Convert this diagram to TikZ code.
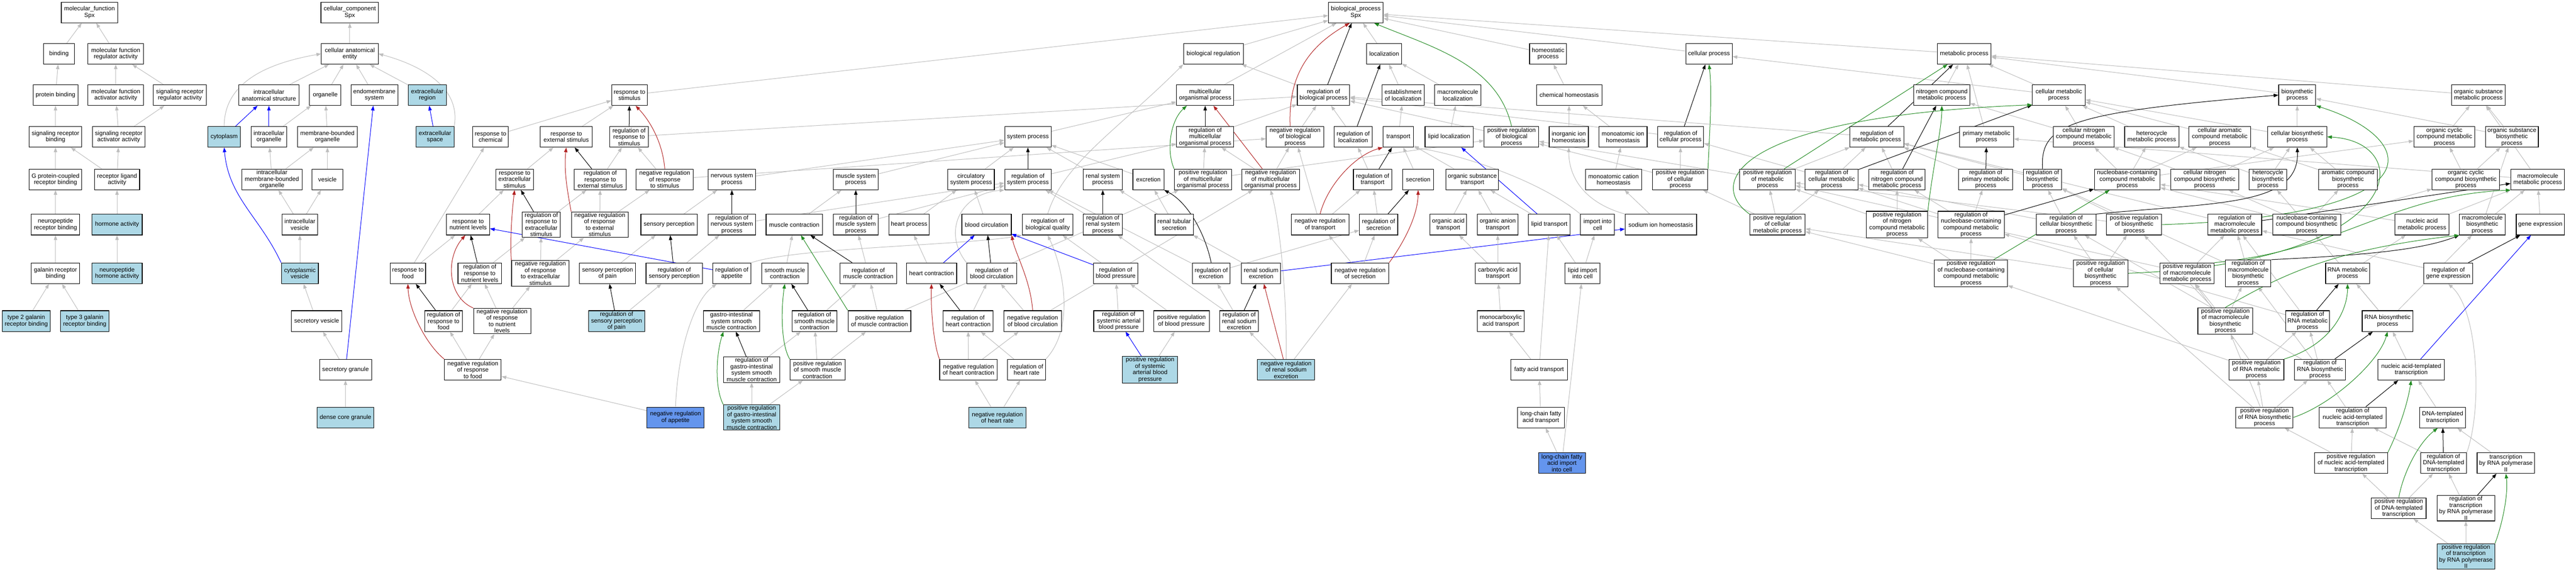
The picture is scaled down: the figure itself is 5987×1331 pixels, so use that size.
\documentclass[tikz,border=0pt]{standalone}
\usepackage{fontspec}
\setmainfont{Liberation Sans}
\usetikzlibrary{arrows.meta}
\definecolor{isagray}{RGB}{190,190,190}
\definecolor{negred}{RGB}{178,34,34}
\definecolor{posgreen}{RGB}{34,139,34}
\definecolor{partblue}{RGB}{0,0,255}
\definecolor{annblue}{RGB}{173,216,230}
\definecolor{seedblue}{RGB}{100,149,237}
\pgfdeclarelayer{edges}
\pgfsetlayers{edges,main}
\tikzset{>={Triangle[length=11pt,width=8pt]}}
\tikzset{
  goterm/.style={draw=black, line width=1.3pt, fill=white, align=center, inner sep=2pt,
    minimum height=48pt, minimum width=#1pt, font=\fontsize{14}{15}\selectfont},
  annterm/.style={fill=annblue},
  seedterm/.style={fill=seedblue},
  isa/.style={->, draw=isagray, line width=1.2pt},
  reg/.style={->, draw=black, line width=1.2pt},
  negreg/.style={->, draw=negred, line width=1.2pt},
  posreg/.style={->, draw=posgreen, line width=1.2pt},
  partof/.style={->, draw=partblue, line width=1.2pt},
}

\begin{document}
\begin{tikzpicture}[x=1pt,y=-1pt]
  \useasboundingbox (0,0) rectangle (5987,1331);

  %% molecular function
  \node[goterm=131] (mf) at (208,29) {molecular\_function\\Spx};
  \node[goterm=72] (bind) at (137,125) {binding};
  \node[goterm=129] (mfra) at (269,125) {molecular function\\regulator activity};
  \node[goterm=104] (pbind) at (129,221) {protein binding};
  \node[goterm=129] (mfaa) at (269,221) {molecular function\\activator activity};
  \node[goterm=123] (srra) at (418,221) {signaling receptor\\regulator activity};
  \node[goterm=122] (srb) at (129,318) {signaling receptor\\binding};
  \node[goterm=122] (sraa) at (276,318) {signaling receptor\\activator activity};
  \node[goterm=122] (gpcrb) at (129,417) {G protein-coupled\\receptor binding};
  \node[goterm=105] (rla) at (272,417) {receptor ligand\\activity};
  \node[goterm=113] (nprb) at (129,522) {neuropeptide\\receptor binding};
  \node[goterm=117,annterm] (hact) at (272,522) {hormone activity};
  \node[goterm=113] (galrb) at (129,635) {galanin receptor\\binding};
  \node[goterm=117,annterm] (npha) at (272,635) {neuropeptide\\hormone activity};
  \node[goterm=112,annterm] (gal2) at (61,746) {type 2 galanin\\receptor binding};
  \node[goterm=112,annterm] (gal3) at (197,746) {type 3 galanin\\receptor binding};

  %% cellular component
  \node[goterm=134] (cc) at (813,29) {cellular\_component\\Spx};
  \node[goterm=132] (cae) at (813,125) {cellular anatomical\\entity};
  \node[goterm=141] (ias) at (625,221) {intracellular\\anatomical structure};
  \node[goterm=73] (orgl) at (756,221) {organelle};
  \node[goterm=109] (ems) at (870,221) {endomembrane\\system};
  \node[goterm=89,annterm] (ecr) at (993,221) {extracellular\\region};
  \node[goterm=76,annterm] (cyto) at (521,318) {cytoplasm};
  \node[goterm=83] (iorg) at (625,318) {intracellular\\organelle};
  \node[goterm=138] (mbo) at (761,318) {membrane-bounded\\organelle};
  \node[goterm=88,annterm] (ecs) at (1011,318) {extracellular\\space};
  \node[goterm=140] (imbo) at (632,417) {intracellular\\membrane-bounded\\organelle};
  \node[goterm=72] (vesi) at (761,417) {vesicle};
  \node[goterm=83] (ivesi) at (697,522) {intracellular\\vesicle};
  \node[goterm=86,annterm] (cvesi) at (697,635) {cytoplasmic\\vesicle};
  \node[goterm=118] (svesi) at (736,746) {secretory vesicle};
  \node[goterm=121] (sgran) at (803,859) {secretory granule};
  \node[goterm=131,annterm] (dcgran) at (803,970) {dense core granule};

  %% response to stimulus, muscle
  \node[goterm=83] (rstim) at (1463,221) {response to\\stimulus};
  \node[goterm=82] (rchem) at (1140,318) {response to\\chemical};
  \node[goterm=120] (rext) at (1316,318) {response to\\external stimulus};
  \node[goterm=89] (rrstim) at (1462,318) {regulation of\\response to\\stimulus};
  \node[goterm=88] (rextc) at (1196,417) {response to\\extracellular\\stimulus};
  \node[goterm=120] (rrext) at (1395,417) {regulation of\\response to\\external stimulus};
  \node[goterm=133] (nrrstim) at (1545,417) {negative regulation\\of response\\to stimulus};
  \node[goterm=110] (nsp) at (1701,417) {nervous system\\process};
  \node[goterm=104] (msp) at (1989,417) {muscle system\\process};
  \node[goterm=100] (rnut) at (1088,522) {response to\\nutrient levels};
  \node[goterm=89] (rrextc) at (1258,522) {regulation of\\response to\\extracellular\\stimulus};
  \node[goterm=132] (nrrext) at (1394,522) {negative regulation\\of response\\to external\\stimulus};
  \node[goterm=131] (sperc) at (1555,522) {sensory perception};
  \node[goterm=110] (rnsp) at (1701,522) {regulation of\\nervous system\\process};
  \node[goterm=131] (mcon) at (1846,522) {muscle contraction};
  \node[goterm=104] (rmsp) at (1989,522) {regulation of\\muscle system\\process};
  \node[goterm=82] (rfood) at (948,635) {response to\\food};
  \node[goterm=101] (rrnut) at (1115,635) {regulation of\\response to\\nutrient levels};
  \node[goterm=134] (nrrextc) at (1256,635) {negative regulation\\of response\\to extracellular\\stimulus};
  \node[goterm=131] (spain) at (1412,635) {sensory perception\\of pain};
  \node[goterm=131] (rsperc) at (1567,635) {regulation of\\sensory perception};
  \node[goterm=89] (rapp) at (1701,635) {regulation of\\appetite};
  \node[goterm=108] (smc) at (1824,635) {smooth muscle\\contraction};
  \node[goterm=131] (rmcon) at (2018,635) {regulation of\\muscle contraction};
  \node[goterm=88] (rrfood) at (1031,746) {regulation of\\response to\\food};
  \node[goterm=133] (nrrnut) at (1167,746) {negative regulation\\of response\\to nutrient\\levels};
  \node[goterm=130,annterm] (rspain) at (1433,746) {regulation of\\sensory perception\\of pain};
  \node[goterm=130] (gismc) at (1700,746) {gastro-intestinal\\system smooth\\muscle contraction};
  \node[goterm=105] (rsmc) at (1893,746) {regulation of\\smooth muscle\\contraction};
  \node[goterm=146] (prmcon) at (2044,746) {positive regulation\\of muscle contraction};
  \node[goterm=132] (nrrfood) at (1099,859) {negative regulation\\of response\\to food};
  \node[goterm=131] (rgismc) at (1747,859) {regulation of\\gastro-intestinal\\system smooth\\muscle contraction};
  \node[goterm=128] (prsmc) at (1900,859) {positive regulation\\of smooth muscle\\contraction};
  \node[goterm=133,seedterm] (nrapp) at (1570,970) {negative regulation\\of appetite};
  \node[goterm=131,annterm] (prgismc) at (1747,970) {positive regulation\\of gastro-intestinal\\system smooth\\muscle contraction};

  %% system process, circulation, excretion
  \node[goterm=139] (breg) at (2820,125) {biological regulation};
  \node[goterm=133] (mop) at (2801,221) {multicellular\\organismal process};
  \node[goterm=108] (sysp) at (2389,318) {system process};
  \node[goterm=133] (rmop) at (2801,318) {regulation of\\multicellular\\organismal process};
  \node[goterm=134] (nrbiop) at (3010,318) {negative regulation\\of biological\\process};
  \node[goterm=108] (csp) at (2257,417) {circulatory\\system process};
  \node[goterm=108] (rsysp) at (2389,417) {regulation of\\system process};
  \node[goterm=91] (renal) at (2563,417) {renal system\\process};
  \node[goterm=72] (excr) at (2669,417) {excretion};
  \node[goterm=133] (prmop) at (2796,417) {positive regulation\\of multicellular\\organismal process};
  \node[goterm=134] (nrmop) at (2953,417) {negative regulation\\of multicellular\\organismal process};
  \node[goterm=94] (hproc) at (2113,522) {heart process};
  \node[goterm=115] (bcirc) at (2293,522) {blood circulation};
  \node[goterm=118] (rbq) at (2435,522) {regulation of\\biological quality};
  \node[goterm=91] (rrenal) at (2563,522) {regulation of\\renal system\\process};
  \node[goterm=89] (rts) at (2729,522) {renal tubular\\secretion};
  \node[goterm=117] (hcon) at (2165,635) {heart contraction};
  \node[goterm=116] (rbcirc) at (2305,635) {regulation of\\blood circulation};
  \node[goterm=103] (rbpres) at (2593,635) {regulation of\\blood pressure};
  \node[goterm=88] (rexcr) at (2815,635) {regulation of\\excretion};
  \node[goterm=91] (rse) at (2931,635) {renal sodium\\excretion};
  \node[goterm=117] (rhcon) at (2250,746) {regulation of\\heart contraction};
  \node[goterm=134] (nrbcirc) at (2400,746) {negative regulation\\of blood circulation};
  \node[goterm=116] (rsabp) at (2600,746) {regulation of\\systemic arterial\\blood pressure};
  \node[goterm=129] (prbpres) at (2746,746) {positive regulation\\of blood pressure};
  \node[goterm=90] (rrse) at (2880,746) {regulation of\\renal sodium\\excretion};
  \node[goterm=134] (nrhcon) at (2251,859) {negative regulation\\of heart contraction};
  \node[goterm=88] (rhrate) at (2386,859) {regulation of\\heart rate};
  \node[goterm=128,annterm] (prsabp) at (2673,859) {positive regulation\\of systemic\\arterial blood\\pressure};
  \node[goterm=133,annterm] (nrrse) at (2989,859) {negative regulation\\of renal sodium\\excretion};
  \node[goterm=133,annterm] (nrhrate) at (2318,970) {negative regulation\\of heart rate};

  %% localization, homeostasis
  \node[goterm=127] (bp) at (3151,29) {biological\_process\\Spx};
  \node[goterm=81] (loc) at (3217,125) {localization};
  \node[goterm=86] (homp) at (3598,125) {homeostatic\\process};
  \node[goterm=108] (cproc) at (3972,125) {cellular process};
  \node[goterm=122] (rbiop) at (3076,221) {regulation of\\biological process};
  \node[goterm=99] (eloc) at (3261,221) {establishment\\of localization};
  \node[goterm=107] (mmloc) at (3388,221) {macromolecule\\localization};
  \node[goterm=152] (chom) at (3647,221) {chemical homeostasis};
  \node[goterm=88] (rloc) at (3145,318) {regulation of\\localization};
  \node[goterm=71] (trans) at (3250,318) {transport};
  \node[goterm=112] (liploc) at (3368,318) {lipid localization};
  \node[goterm=127] (prbiop) at (3513,318) {positive regulation\\of biological\\process};
  \node[goterm=91] (iihom) at (3646,318) {inorganic ion\\homeostasis};
  \node[goterm=112] (mihom) at (3772,318) {monoatomic ion\\homeostasis};
  \node[goterm=107] (rcproc) at (3906,318) {regulation of\\cellular process};
  \node[goterm=89] (rtrans) at (3190,417) {regulation of\\transport};
  \node[goterm=72] (secr) at (3296,417) {secretion};
  \node[goterm=122] (ost) at (3422,417) {organic substance\\transport};
  \node[goterm=131] (mchom) at (3750,417) {monoatomic cation\\homeostasis};
  \node[goterm=128] (prcproc) at (3905,417) {positive regulation\\of cellular\\process};
  \node[goterm=134] (nrtrans) at (3068,522) {negative regulation\\of transport};
  \node[goterm=89] (rsecr) at (3204,522) {regulation of\\secretion};
  \node[goterm=85] (oat) at (3366,522) {organic acid\\transport};
  \node[goterm=94] (oant) at (3481,522) {organic anion\\transport};
  \node[goterm=97] (liptr) at (3601,522) {lipid transport};
  \node[goterm=79] (iic) at (3713,522) {import into\\cell};
  \node[goterm=166] (sihom) at (3860,522) {sodium ion homeostasis};
  \node[goterm=134] (nrsecr) at (3161,635) {negative regulation\\of secretion};
  \node[goterm=104] (cat) at (3481,635) {carboxylic acid\\transport};
  \node[goterm=81] (lic) at (3678,635) {lipid import\\into cell};
  \node[goterm=110] (mcat) at (3488,746) {monocarboxylic\\acid transport};
  \node[goterm=131] (fat) at (3577,859) {fatty acid transport};
  \node[goterm=109] (lcfat) at (3581,970) {long-chain fatty\\acid transport};
  \node[goterm=109,seedterm] (lcfaic) at (3630,1076) {long-chain fatty\\acid import\\into cell};

  %% metabolism, transcription
  \node[goterm=125] (metp) at (4565,125) {metabolic process};
  \node[goterm=130] (ncmp) at (4513,221) {nitrogen compound\\metabolic process};
  \node[goterm=123] (cmp) at (4785,221) {cellular metabolic\\process};
  \node[goterm=86] (biosp) at (5339,221) {biosynthetic\\process};
  \node[goterm=125] (osmp) at (5760,221) {organic substance\\metabolic process};
  \node[goterm=125] (rmp) at (4362,318) {regulation of\\metabolic process};
  \node[goterm=126] (pmp) at (4617,318) {primary metabolic\\process};
  \node[goterm=142] (cncmp) at (4843,318) {cellular nitrogen\\compound metabolic\\process};
  \node[goterm=126] (hcmp) at (5001,318) {heterocycle\\metabolic process};
  \node[goterm=143] (camp) at (5159,318) {cellular aromatic\\compound metabolic\\process};
  \node[goterm=138] (cbp) at (5339,318) {cellular biosynthetic\\process};
  \node[goterm=142] (occmp) at (5681,318) {organic cyclic\\compound metabolic\\process};
  \node[goterm=123] (osbp) at (5838,318) {organic substance\\biosynthetic\\process};
  \node[goterm=129] (prmp) at (4108,417) {positive regulation\\of metabolic\\process};
  \node[goterm=123] (rcmp) at (4257,417) {regulation of\\cellular metabolic\\process};
  \node[goterm=131] (rncmp) at (4409,417) {regulation of\\nitrogen compound\\metabolic process};
  \node[goterm=126] (rpmp) at (4615,417) {regulation of\\primary metabolic\\process};
  \node[goterm=89] (rbiosp) at (4747,417) {regulation of\\biosynthetic\\process};
  \node[goterm=153] (nccmp) at (4944,417) {nucleobase-containing\\compound metabolic\\process};
  \node[goterm=158] (cncbp) at (5124,417) {cellular nitrogen\\compound biosynthetic\\process};
  \node[goterm=87] (hbp) at (5271,417) {heterocycle\\biosynthetic\\process};
  \node[goterm=136] (acbp) at (5457,417) {aromatic compound\\biosynthetic\\process};
  \node[goterm=157] (occbp) at (5731,417) {organic cyclic\\compound biosynthetic\\process};
  \node[goterm=125] (mmp) at (5898,417) {macromolecule\\metabolic process};
  \node[goterm=129] (prcmp) at (4131,522) {positive regulation\\of cellular\\metabolic process};
  \node[goterm=142] (prncmp) at (4409,522) {positive regulation\\of nitrogen\\compound metabolic\\process};
  \node[goterm=154] (rnccmp) at (4581,522) {regulation of\\nucleobase-containing\\compound metabolic\\process};
  \node[goterm=139] (rcbp) at (4802,522) {regulation of\\cellular biosynthetic\\process};
  \node[goterm=128] (prbiosp) at (4960,522) {positive regulation\\of biosynthetic\\process};
  \node[goterm=125] (rmmp) at (5194,522) {regulation of\\macromolecule\\metabolic process};
  \node[goterm=158] (ncbp) at (5361,522) {nucleobase-containing\\compound biosynthetic\\process};
  \node[goterm=125] (namp) at (5629,522) {nucleic acid\\metabolic process};
  \node[goterm=106] (mbp) at (5769,522) {macromolecule\\biosynthetic\\process};
  \node[goterm=112] (gexp) at (5904,522) {gene expression};
  \node[goterm=170] (prnccmp) at (4581,635) {positive regulation\\of nucleobase-containing\\compound metabolic\\process};
  \node[goterm=127] (prcbp) at (4882,635) {positive regulation\\of cellular\\biosynthetic\\process};
  \node[goterm=126] (prmmp) at (5083,635) {positive regulation\\of macromolecule\\metabolic process};
  \node[goterm=106] (rmbp) at (5225,635) {regulation of\\macromolecule\\biosynthetic\\process};
  \node[goterm=102] (rnamp) at (5456,635) {RNA metabolic\\process};
  \node[goterm=113] (rgexp) at (5690,635) {regulation of\\gene expression};
  \node[goterm=128] (prmbp) at (5172,746) {positive regulation\\of macromolecule\\biosynthetic\\process};
  \node[goterm=102] (rrnamp) at (5363,746) {regulation of\\RNA metabolic\\process};
  \node[goterm=118] (rnabp) at (5549,746) {RNA biosynthetic\\process};
  \node[goterm=128] (prrnamp) at (5244,859) {positive regulation\\of RNA metabolic\\process};
  \node[goterm=118] (rrnabp) at (5392,859) {regulation of\\RNA biosynthetic\\process};
  \node[goterm=155] (natt) at (5604,859) {nucleic acid-templated\\transcription};
  \node[goterm=133] (prrnabp) at (5263,970) {positive regulation\\of RNA biosynthetic\\process};
  \node[goterm=155] (rnatt) at (5468,970) {regulation of\\nucleic acid-templated\\transcription};
  \node[goterm=107] (dtt) at (5677,970) {DNA-templated\\transcription};
  \node[goterm=170] (prnatt) at (5464,1076) {positive regulation\\of nucleic acid-templated\\transcription};
  \node[goterm=107] (rdtt) at (5679,1076) {regulation of\\DNA-templated\\transcription};
  \node[goterm=134] (trp2) at (5824,1076) {transcription\\by RNA polymerase\\II};
  \node[goterm=127] (prdtt) at (5575,1181) {positive regulation\\of DNA-templated\\transcription};
  \node[goterm=134] (rtrp2) at (5731,1181) {regulation of\\transcription\\by RNA polymerase\\II};
  \node[goterm=134,annterm] (prtrp2) at (5731,1293) {positive regulation\\of transcription\\by RNA polymerase\\II};

  \begin{pgfonlayer}{edges}
    \fill[white] (0,0) rectangle (5987,1331);

    %% molecular function
    \draw[isa] (bind) -- (mf);
    \draw[isa] (mfra) -- (mf);
    \draw[isa] (pbind) -- (bind);
    \draw[isa] (mfaa) -- (mfra);
    \draw[isa] (srra) -- (mfra);
    \draw[isa] (srb) -- (pbind);
    \draw[isa] (sraa) -- (mfaa);
    \draw[isa] (sraa) -- (srra);
    \draw[isa] (gpcrb) -- (srb);
    \draw[isa] (rla) -- (srb);
    \draw[isa] (rla) -- (sraa);
    \draw[isa] (nprb) -- (gpcrb);
    \draw[isa] (hact) -- (rla);
    \draw[isa] (galrb) -- (nprb);
    \draw[isa] (npha) -- (hact);
    \draw[isa] (gal2) -- (galrb);
    \draw[isa] (gal3) -- (galrb);

    %% cellular component
    \draw[isa] (cae) -- (cc);
    \draw[isa] (ias) -- (cae);
    \draw[isa] (orgl) -- (cae);
    \draw[isa] (ems) -- (cae);
    \draw[isa] (ecr) -- (cae);
    \draw[isa] (cyto.north) to[out=90,in=190] (cae.west);
    \draw[isa] (ecs.north east) to[out=80,in=-15] (cae.east);
    \draw[isa] (iorg) -- (orgl);
    \draw[isa] (mbo) -- (orgl);
    \draw[isa] (imbo) -- (iorg);
    \draw[isa] (imbo) -- (mbo);
    \draw[isa] (vesi) -- (mbo);
    \draw[isa] (ivesi) -- (imbo);
    \draw[isa] (ivesi) -- (vesi);
    \draw[isa] (cvesi) -- (ivesi);
    \draw[isa] (svesi) -- (cvesi);
    \draw[isa] (sgran) -- (svesi);
    \draw[isa] (dcgran) -- (sgran);
    \draw[partof] (cyto) -- (ias);
    \draw[partof] (iorg) -- (ias);
    \draw[partof] (ecs) -- (ecr);
    \draw[partof] (cvesi.north west) to[out=115,in=-85] (cyto.south);
    \draw[partof] (sgran) -- (ems);

    %% response to stimulus, muscle
    \draw[isa] (rstim) -- (bp);
    \draw[isa] (rchem) -- (rstim);
    \draw[isa] (rext) -- (rstim);
    \draw[isa] (rrstim) -- (rbiop);
    \draw[isa] (rextc) -- (rext);
    \draw[isa] (rrext) -- (rrstim);
    \draw[isa] (nrrstim) -- (rrstim);
    \draw[isa] (nrrstim) -- (nrbiop);
    \draw[isa] (nsp) -- (sysp);
    \draw[isa] (msp) -- (sysp);
    \draw[isa] (rnut) -- (rextc);
    \draw[isa] (rrextc) -- (rrext);
    \draw[isa] (nrrext) -- (rrext);
    \draw[isa] (nrrext) -- (nrrstim);
    \draw[isa] (sperc) -- (nsp);
    \draw[isa] (rnsp) -- (rsysp);
    \draw[isa] (mcon) -- (msp);
    \draw[isa] (rmsp) -- (rsysp);
    \draw[isa] (rfood) -- (rchem);
    \draw[isa] (rfood) -- (rnut);
    \draw[isa] (rrnut) -- (rrextc);
    \draw[isa] (nrrextc) -- (rrextc);
    \draw[isa] (nrrextc) -- (nrrext);
    \draw[isa] (spain) -- (sperc);
    \draw[isa] (rsperc) -- (rnsp);
    \draw[isa] (rapp.north east) .. controls (1850,575) and (2250,570) .. (rbq.south west);
    \draw[isa] (smc) -- (mcon);
    \draw[isa] (rmcon) -- (rmsp);
    \draw[isa] (rrfood) -- (rrnut);
    \draw[isa] (nrrnut) -- (rrnut);
    \draw[isa] (nrrnut) -- (nrrextc);
    \draw[isa] (rspain) -- (rsperc);
    \draw[isa] (gismc) -- (smc);
    \draw[isa] (rsmc) -- (rmcon);
    \draw[isa] (prmcon) -- (rmcon);
    \draw[isa] (prmcon) -- (prmop);
    \draw[isa] (nrrfood) -- (rrfood);
    \draw[isa] (nrrfood) -- (nrrnut);
    \draw[isa] (rgismc) -- (rsmc);
    \draw[isa] (prsmc) -- (rsmc);
    \draw[isa] (prsmc) -- (prmcon);
    \draw[isa] (nrapp) -- (nrrfood);
    \draw[isa] (nrapp.north) .. controls (1575,820) and (1610,700) .. (rapp.-145);
    \draw[isa] (prgismc) -- (rgismc);
    \draw[isa] (prgismc) -- (prsmc);
    \draw[reg] (rrstim) -- (rstim);
    \draw[reg] (rrext) -- (rext);
    \draw[reg] (rrextc) -- (rextc);
    \draw[reg] (rnsp) -- (nsp);
    \draw[reg] (rmsp) -- (msp);
    \draw[reg] (rrnut) -- (rnut);
    \draw[reg] (rsperc) -- (sperc);
    \draw[reg] (rmcon) -- (mcon);
    \draw[reg] (rrfood) -- (rfood);
    \draw[reg] (rspain) -- (spain);
    \draw[reg] (rsmc) -- (smc);
    \draw[reg] (rgismc) -- (gismc);
    \draw[negreg] (nrrstim.north) .. controls (1540,330) and (1510,280) .. (rstim.-60);
    \draw[negreg] (nrrext.north west) .. controls (1320,450) and (1310,400) .. (rext.south);
    \draw[negreg] (nrrextc.north west) .. controls (1185,560) and (1190,490) .. (rextc.south);
    \draw[negreg] (nrrnut.north west) .. controls (1040,690) and (1035,600) .. (rnut.-105);
    \draw[negreg] (nrrfood.north west) .. controls (990,800) and (950,720) .. (rfood.south);
    \draw[posreg] (prmcon.north west) -- (mcon);
    \draw[posreg] (prsmc.north west) .. controls (1815,800) and (1815,720) .. (smc.south);
    \draw[posreg] (prgismc.north west) .. controls (1660,900) and (1665,820) .. (gismc.-127);
    \draw[partof] (rapp) -- (rnut);

    %% system process, circulation, excretion
    \draw[isa] (breg) -- (bp);
    \draw[isa] (mop) -- (bp);
    \draw[isa] (rbiop) -- (breg);
    \draw[isa] (sysp) -- (mop);
    \draw[isa] (rmop) -- (rbiop);
    \draw[isa] (nrbiop) -- (rbiop);
    \draw[isa] (csp) -- (sysp);
    \draw[isa] (rsysp) -- (rmop);
    \draw[isa] (renal) -- (sysp);
    \draw[isa] (excr) -- (sysp);
    \draw[isa] (prmop) -- (rmop);
    \draw[isa] (prmop) -- (prbiop);
    \draw[isa] (nrmop) -- (rmop);
    \draw[isa] (nrmop) -- (nrbiop);
    \draw[isa] (hproc) -- (csp);
    \draw[isa] (bcirc) -- (csp);
    \draw[isa] (rbq.north) .. controls (2470,380) and (2600,300) .. (breg.south west);
    \draw[isa] (rrenal) -- (rsysp);
    \draw[isa] (rts) -- (renal);
    \draw[isa] (rts) -- (excr);
    \draw[isa] (hcon) -- (hproc);
    \draw[isa] (rbcirc.north west) .. controls (2190,540) and (2230,450) .. (rsysp.south west);
    \draw[isa] (rbpres) -- (rbq);
    \draw[isa] (rexcr) -- (rsysp);
    \draw[isa] (rexcr) -- (rsecr);
    \draw[isa] (rse) -- (rts);
    \draw[isa] (rhcon) -- (rbcirc);
    \draw[isa] (nrbcirc) -- (rbcirc);
    \draw[isa] (nrbcirc) -- (nrmop);
    \draw[isa] (rsabp) -- (rbpres);
    \draw[isa] (prbpres) -- (rbpres);
    \draw[isa] (rrse) -- (rexcr);
    \draw[isa] (rrse) -- (rrenal);
    \draw[isa] (nrhcon) -- (rhcon);
    \draw[isa] (nrhcon) -- (nrbcirc);
    \draw[isa] (rhrate) -- (rhcon);
    \draw[isa] (rhrate.north east) .. controls (2500,760) and (2470,620) .. (rbq.south);
    \draw[isa] (prsabp) -- (prbpres);
    \draw[isa] (nrrse) -- (rrse);
    \draw[isa] (nrrse.north) .. controls (2992,700) and (2975,520) .. (nrmop.south);
    \draw[isa] (nrrse) -- (nrsecr);
    \draw[isa] (nrhrate) -- (nrhcon);
    \draw[isa] (nrhrate) -- (rhrate);
    \draw[reg] (rsysp) -- (sysp);
    \draw[reg] (rmop) -- (mop);
    \draw[reg] (rrenal) -- (renal);
    \draw[reg] (rbcirc) -- (bcirc);
    \draw[reg] (rexcr.north) .. controls (2800,540) and (2760,470) .. (excr.south east);
    \draw[reg] (rhcon) -- (hcon);
    \draw[reg] (rrse) -- (rse);
    \draw[negreg] (nrmop) -- (mop);
    \draw[negreg] (nrbcirc.north) .. controls (2395,650) and (2360,590) .. (bcirc.south east);
    \draw[negreg] (nrhcon.north west) .. controls (2170,800) and (2163,720) .. (hcon.south);
    \draw[negreg] (nrrse) -- (rse);
    \draw[posreg] (prmop.north west) .. controls (2710,350) and (2720,280) .. (mop.-150);
    \draw[partof] (hcon) -- (bcirc);
    \draw[partof] (rbpres) -- (bcirc);
    \draw[partof] (prsabp) -- (rsabp);
    \draw[partof] (rse) -- (sihom);

    %% localization, homeostasis
    \draw[isa] (loc) -- (bp);
    \draw[isa] (homp) -- (bp);
    \draw[isa] (cproc) -- (bp);
    \draw[isa] (metp) -- (bp);
    \draw[isa] (eloc) -- (loc);
    \draw[isa] (mmloc) -- (loc);
    \draw[isa] (trans) -- (eloc);
    \draw[isa] (liploc) -- (mmloc);
    \draw[isa] (chom) -- (homp);
    \draw[isa] (iihom) -- (chom);
    \draw[isa] (mihom) -- (chom);
    \draw[isa] (rloc) -- (rbiop);
    \draw[isa] (rcproc) -- (rbiop);
    \draw[isa] (prbiop) -- (rbiop);
    \draw[isa] (prcproc) -- (rcproc);
    \draw[isa] (prcproc) -- (prbiop);
    \draw[isa] (rtrans) -- (rloc);
    \draw[isa] (secr) -- (trans);
    \draw[isa] (ost) -- (trans);
    \draw[isa] (mchom) -- (mihom);
    \draw[isa] (nrtrans) -- (rtrans);
    \draw[isa] (nrtrans) -- (nrbiop);
    \draw[isa] (rsecr) -- (rtrans);
    \draw[isa] (oat) -- (ost);
    \draw[isa] (oant) -- (ost);
    \draw[isa] (liptr) -- (ost);
    \draw[isa] (iic.north west) .. controls (3580,420) and (3400,360) .. (trans.south east);
    \draw[isa] (sihom) -- (mchom);
    \draw[isa] (sihom.north west) .. controls (3680,470) and (3646,410) .. (iihom.south);
    \draw[isa] (nrsecr) -- (nrtrans);
    \draw[isa] (nrsecr) -- (rsecr);
    \draw[isa] (cat) -- (oat);
    \draw[isa] (cat) -- (oant);
    \draw[isa] (lic) -- (liptr);
    \draw[isa] (lic) -- (iic);
    \draw[isa] (mcat) -- (cat);
    \draw[isa] (fat) -- (mcat);
    \draw[isa] (fat) -- (liptr);
    \draw[isa] (lcfat) -- (fat);
    \draw[isa] (lcfaic) -- (lcfat);
    \draw[isa] (lcfaic) -- (lic);
    \draw[reg] (rbiop) -- (bp);
    \draw[reg] (rloc) -- (loc);
    \draw[reg] (rcproc) -- (cproc);
    \draw[reg] (rtrans) -- (trans);
    \draw[reg] (rsecr) -- (secr);
    \draw[negreg] (nrbiop.115) .. controls (2995,200) and (3020,120) .. (bp.-120);
    \draw[negreg] (nrtrans.north) .. controls (3085,430) and (3150,360) .. (trans.south west);
    \draw[negreg] (nrsecr.north east) .. controls (3265,560) and (3295,500) .. (secr.south);
    \draw[posreg] (prbiop.north) .. controls (3480,150) and (3330,110) .. (bp.-30);
    \draw[posreg] (prcproc.north east) .. controls (3972,330) and (3980,220) .. (cproc.south);
    \draw[partof] (liptr) -- (liploc);

    %% metabolism, transcription
    \draw[isa] (cmp) -- (cproc);
    \draw[isa] (ncmp) -- (metp);
    \draw[isa] (pmp) -- (metp);
    \draw[isa] (cmp) -- (metp);
    \draw[isa] (biosp) -- (metp);
    \draw[isa] (osmp) -- (metp);
    \draw[isa] (rmp) -- (rbiop);
    \draw[isa] (cncmp) -- (cmp);
    \draw[isa] (cncmp) -- (ncmp);
    \draw[isa] (hcmp) -- (cmp);
    \draw[isa] (camp) -- (cmp);
    \draw[isa] (cbp) -- (cmp);
    \draw[isa] (cbp) -- (biosp);
    \draw[isa] (occmp) -- (osmp);
    \draw[isa] (osbp) -- (osmp);
    \draw[isa] (osbp) -- (biosp);
    \draw[isa] (prmp) -- (rmp);
    \draw[isa] (prmp) -- (prbiop);
    \draw[isa] (rcmp) -- (rmp);
    \draw[isa] (rcmp) -- (rcproc);
    \draw[isa] (rncmp) -- (rmp);
    \draw[isa] (rpmp) -- (rmp);
    \draw[isa] (rbiosp) -- (rmp);
    \draw[isa] (nccmp) -- (cncmp);
    \draw[isa] (nccmp) -- (hcmp);
    \draw[isa] (nccmp) -- (camp);
    \draw[isa] (nccmp) -- (occmp);
    \draw[isa] (cncbp) -- (cncmp);
    \draw[isa] (cncbp) -- (cbp);
    \draw[isa] (hbp) -- (hcmp);
    \draw[isa] (hbp) -- (cbp);
    \draw[isa] (acbp) -- (camp);
    \draw[isa] (acbp) -- (cbp);
    \draw[isa] (occbp) -- (occmp);
    \draw[isa] (occbp) -- (osbp);
    \draw[isa] (mmp) -- (osmp);
    \draw[isa] (mmp) -- (pmp);
    \draw[isa] (prcmp) -- (prmp);
    \draw[isa] (prcmp) -- (rcmp);
    \draw[isa] (prcmp) -- (prcproc);
    \draw[isa] (prncmp) -- (rncmp);
    \draw[isa] (prncmp) -- (prmp);
    \draw[isa] (rnccmp) -- (rncmp);
    \draw[isa] (rnccmp) -- (rpmp);
    \draw[isa] (rnccmp) -- (rcmp);
    \draw[isa] (rcbp) -- (rbiosp);
    \draw[isa] (rcbp) -- (rcmp);
    \draw[isa] (prbiosp) -- (rbiosp);
    \draw[isa] (prbiosp) -- (prmp);
    \draw[isa] (rmmp) -- (rmp);
    \draw[isa] (ncbp) -- (nccmp);
    \draw[isa] (ncbp) -- (cncbp);
    \draw[isa] (ncbp) -- (hbp);
    \draw[isa] (ncbp) -- (acbp);
    \draw[isa] (ncbp) -- (occbp);
    \draw[isa] (namp) -- (nccmp);
    \draw[isa] (namp) -- (mmp);
    \draw[isa] (mbp) -- (mmp);
    \draw[isa] (mbp) -- (osbp);
    \draw[isa] (gexp) -- (mmp);
    \draw[isa] (prnccmp) -- (rnccmp);
    \draw[isa] (prnccmp) -- (prncmp);
    \draw[isa] (prnccmp) -- (prcmp);
    \draw[isa] (prcbp) -- (rcbp);
    \draw[isa] (prcbp) -- (prbiosp);
    \draw[isa] (prcbp) -- (prcmp);
    \draw[isa] (prmmp) -- (rmmp);
    \draw[isa] (prmmp) -- (prmp);
    \draw[isa] (rmbp) -- (rmmp);
    \draw[isa] (rmbp) -- (rbiosp);
    \draw[isa] (rnamp) -- (namp);
    \draw[isa] (rgexp) -- (rmmp);
    \draw[isa] (prmbp) -- (rmbp);
    \draw[isa] (prmbp) -- (prmmp);
    \draw[isa] (prmbp) -- (prbiosp);
    \draw[isa] (rrnamp) -- (rmmp);
    \draw[isa] (rrnamp) -- (rnccmp);
    \draw[isa] (rnabp) -- (rnamp);
    \draw[isa] (rnabp) -- (ncbp);
    \draw[isa] (rnabp) -- (mbp);
    \draw[isa] (prrnamp) -- (rrnamp);
    \draw[isa] (prrnamp) -- (prmmp);
    \draw[isa] (prrnamp) -- (prnccmp);
    \draw[isa] (rrnabp) -- (rrnamp);
    \draw[isa] (rrnabp) -- (rmbp);
    \draw[isa] (rrnabp) -- (rcbp);
    \draw[isa] (natt) -- (rnabp);
    \draw[isa] (prrnabp) -- (prrnamp);
    \draw[isa] (prrnabp) -- (rrnabp);
    \draw[isa] (prrnabp) -- (prmbp);
    \draw[isa] (prrnabp) -- (prcbp);
    \draw[isa] (rnatt) -- (rrnabp);
    \draw[isa] (dtt) -- (natt);
    \draw[isa] (prnatt) -- (rnatt);
    \draw[isa] (prnatt) -- (prrnabp);
    \draw[isa] (rdtt) -- (rnatt);
    \draw[isa] (rdtt.north east) .. controls (5770,950) and (5760,720) .. (rgexp.south);
    \draw[isa] (trp2) -- (dtt);
    \draw[isa] (prdtt) -- (rdtt);
    \draw[isa] (prdtt) -- (prnatt);
    \draw[isa] (rtrp2) -- (rdtt);
    \draw[isa] (prtrp2) -- (rtrp2);
    \draw[isa] (prtrp2) -- (prdtt);
    \draw[reg] (rmp) -- (metp);
    \draw[reg] (rncmp) -- (ncmp);
    \draw[reg] (rcmp) -- (cmp);
    \draw[reg] (rpmp) -- (pmp);
    \draw[reg] (rbiosp.north) .. controls (4742,290) and (4800,262) .. (biosp.west);
    \draw[reg] (rnccmp) -- (nccmp);
    \draw[reg] (rcbp.north east) .. controls (5150,470) and (5345,480) .. (cbp.south);
    \draw[reg] (rmmp) -- (mmp);
    \draw[reg] (rmbp.north east) .. controls (5450,595) and (5620,585) .. (mbp.south west);
    \draw[reg] (rgexp) -- (gexp);
    \draw[reg] (rrnamp) -- (rnamp);
    \draw[reg] (rrnabp) -- (rnabp);
    \draw[reg] (rnatt) -- (natt);
    \draw[reg] (rdtt) -- (dtt);
    \draw[reg] (rtrp2) -- (trp2);
    \draw[posreg] (prmp) -- (metp);
    \draw[posreg] (prcmp.north west) .. controls (3960,420) and (4050,270) .. (cmp.200);
    \draw[posreg] (prncmp.north east) .. controls (4490,400) and (4513,300) .. (ncmp.south);
    \draw[posreg] (prnccmp) -- (nccmp);
    \draw[posreg] (prbiosp.east) .. controls (5680,500) and (5620,320) .. (biosp.south east);
    \draw[posreg] (prcbp.east) .. controls (5600,610) and (5620,330) .. (cbp.east);
    \draw[posreg] (prmmp.north east) .. controls (5450,580) and (5550,455) .. (mmp.south west);
    \draw[posreg] (prmbp.north) .. controls (5300,640) and (5420,580) .. (mbp.south west);
    \draw[posreg] (prrnamp.north east) .. controls (5420,800) and (5456,720) .. (rnamp.south);
    \draw[posreg] (prrnabp.east) .. controls (5420,940) and (5530,840) .. (rnabp.south);
    \draw[posreg] (prnatt.north east) .. controls (5575,1000) and (5595,940) .. (natt.south);
    \draw[posreg] (prdtt.north) .. controls (5585,1100) and (5620,1030) .. (dtt.-115);
    \draw[posreg] (prtrp2.north east) .. controls (5815,1220) and (5830,1150) .. (trp2.south);
    \draw[partof] (natt) -- (gexp);
  \end{pgfonlayer}
\end{tikzpicture}
\end{document}
